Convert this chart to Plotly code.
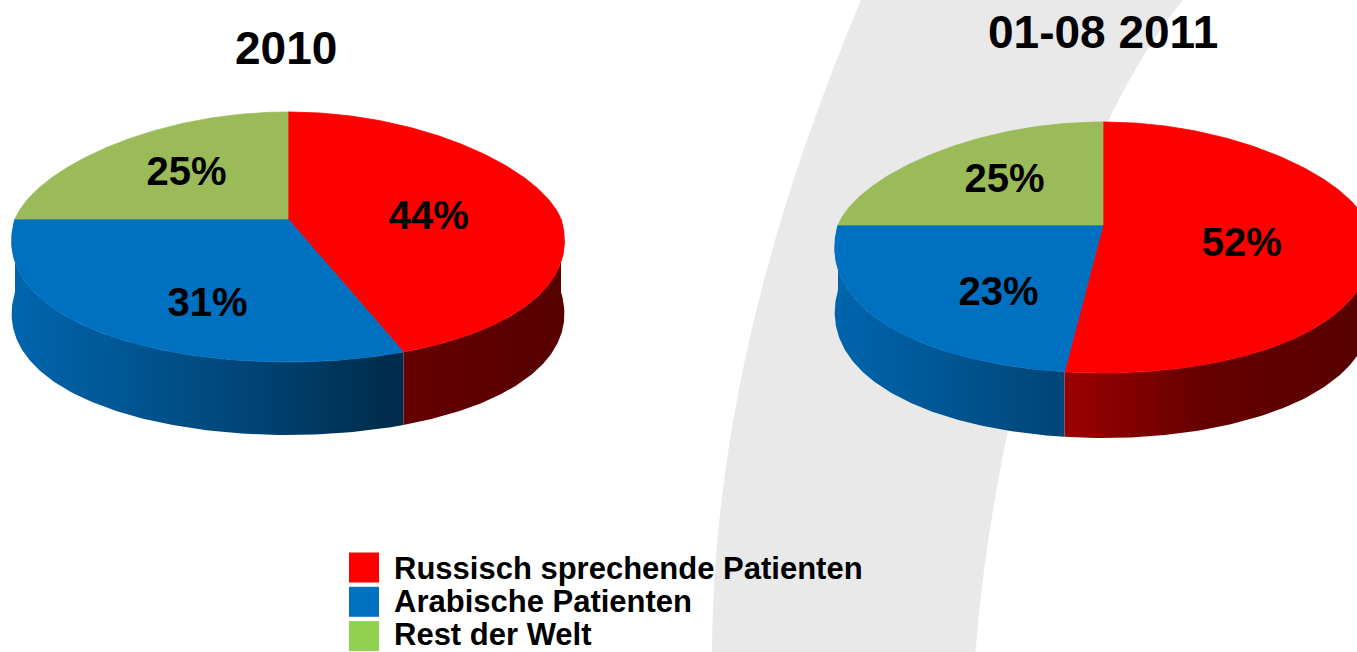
import numpy as np
import plotly.graph_objects as go

# ---------------- data ----------------
categories = ["Russisch sprechende Patienten", "Arabische Patienten", "Rest der Welt"]
titles = ["2010", "01-08 2011"]
values_2010 = [44, 31, 25]
values_2011 = [52, 23, 25]

# ---------------- styles ----------------
top_colors = ["#ff0000", "#0070c0", "#9bbb59"]
side_rgb = [(255, 0, 0), (0, 112, 192), (155, 187, 89)]
legend_colors = ["#ff0000", "#0070c0", "#92d050"]
W, H = 1357, 652
FONT = "Liberation Sans, Arial, sans-serif"

# pie geometry in page pixels (layout only)
pies = [
    dict(title=titles[0], values=values_2010, cx=288, cy=219, rx=273, ryt=107, ryb=143, depth=73, tx=286, ty=48),
    dict(title=titles[1], values=values_2011, cx=1103, cy=225, rx=265, ryt=103, ryb=148, depth=65, tx=1103, ty=32),
]
PERSP = 0.16
SHADE = [(0.0, 0.9), (0.42, 0.62), (0.68, 0.40), (1.0, 0.34)]


def proj(g, th, dy=0.0):
    s = np.sin(th)
    c = np.cos(th)
    x = g["cx"] + g["rx"] * c * (1 - PERSP * s)
    ry = np.where(s > 0, g["ryt"], g["ryb"])
    y = g["cy"] - ry * s + dy
    return x, y


def shade_scale(rgb):
    out = []
    for u, f in SHADE:
        r, gg, b = (int(round(v * f)) for v in rgb)
        out.append([u, f"rgb({r},{gg},{b})"])
    return out


fig = go.Figure()

for g in pies:
    vals = np.array(g["values"], dtype=float)
    frac = vals / vals.sum()
    cum = np.concatenate([[0], np.cumsum(frac)])
    starts = np.deg2rad(90 - cum[:-1] * 360)
    ends = np.deg2rad(90 - cum[1:] * 360)

    # side walls (front half only)
    for i in range(len(vals)):
        a = max(ends[i], -np.pi)
        b = min(starts[i], 0.0)
        if b - a <= 1e-6:
            continue
        th = np.linspace(b, a, 120)
        x1, y1 = proj(g, th)
        x2, y2 = proj(g, th[::-1], g["depth"])
        xs = np.concatenate([x1, x2, x1[:1]])
        ys = np.concatenate([y1, y2, y1[:1]])
        fig.add_trace(go.Scatter(
            x=xs, y=ys, mode="lines", fill="toself",
            line=dict(width=0, color="rgba(0,0,0,0)"),
            fillgradient=dict(type="horizontal", colorscale=shade_scale(side_rgb[i]),
                              start=g["cx"] - g["rx"], stop=g["cx"] + g["rx"]),
            hoverinfo="skip", showlegend=False))

    # top faces
    for i in range(len(vals)):
        th = np.linspace(starts[i], ends[i], 200)
        x, y = proj(g, th)
        xs = np.concatenate([[g["cx"]], x, [g["cx"]]])
        ys = np.concatenate([[g["cy"]], y, [g["cy"]]])
        fig.add_trace(go.Scatter(
            x=xs, y=ys, mode="lines", fill="toself",
            fillcolor=top_colors[i], line=dict(width=0.8, color=top_colors[i]),
            hoverinfo="skip", showlegend=False))

    # percentage labels
    mids = (starts + ends) / 2
    lx = g["cx"] + 0.525 * g["rx"] * np.cos(mids)
    ly = g["cy"] + 0.15 * g["ryt"] - 0.8 * g["ryt"] * np.sin(mids)
    fig.add_trace(go.Scatter(
        x=lx, y=ly, mode="text",
        text=[f"<b>{int(v)}%</b>" for v in vals],
        textposition="middle center",
        textfont=dict(family=FONT, size=40, color="black"),
        hoverinfo="skip", showlegend=False))

    # title
    fig.add_annotation(x=g["tx"], y=g["ty"], xref="x", yref="y",
                       text=f"<b>{g['title']}</b>", showarrow=False,
                       xanchor="center", yanchor="middle",
                       font=dict(family=FONT, size=46, color="black"))

# legend (manual, large squares)
LX, LY, LSTEP = 364, 567.5, 34.3
TY, TSTEP = 568.5, 33.0
for i, cat in enumerate(categories):
    fig.add_trace(go.Scatter(
        x=[LX], y=[LY + i * LSTEP], mode="markers",
        marker=dict(symbol="square", size=30, color=legend_colors[i], line=dict(width=0)),
        hoverinfo="skip", showlegend=False, cliponaxis=False))
    fig.add_annotation(x=LX + 28, y=TY + i * TSTEP, xref="x", yref="y",
                       text=f"<b>{cat}</b>", showarrow=False,
                       xanchor="left", yanchor="middle",
                       font=dict(family=FONT, size=31, color="black"))

# decorative grey band in the background
fig.add_shape(type="path", xref="x", yref="y", layer="below",
              path="M 861,0 C 790,170 712,400 712,660 L 975,660 C 990,450 1060,150 1183,0 Z",
              fillcolor="#e9e9e9", line=dict(width=0))

fig.update_layout(
    width=W, height=H,
    margin=dict(l=0, r=0, t=0, b=0),
    paper_bgcolor="white", plot_bgcolor="white",
    xaxis=dict(range=[0, W], visible=False, fixedrange=True),
    yaxis=dict(range=[H, 0], visible=False, fixedrange=True),
    showlegend=False,
)

fig.write_html("out.html")
